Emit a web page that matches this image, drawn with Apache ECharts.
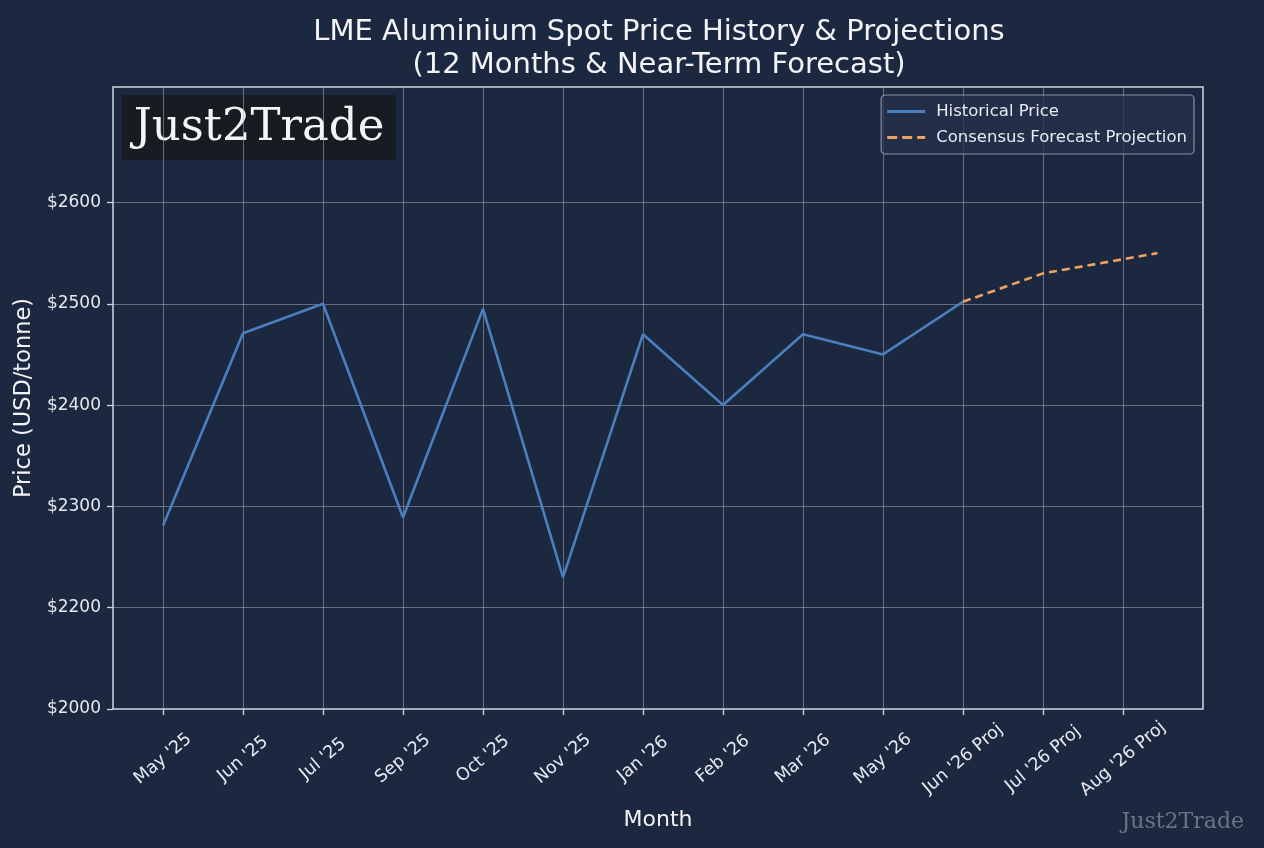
<!DOCTYPE html>
<html>
<head>
<meta charset="utf-8">
<script src="https://cdn.jsdelivr.net/npm/echarts@6/dist/echarts.min.js"></script>
<style>
html,body{margin:0;padding:0;background:#1c2740;}
#chart{width:1264px;height:848px;}
</style>
</head>
<body>
<div id="chart"></div>
<script>
// ---- data ----
var categories = ["May '25","Jun '25","Jul '25","Sep '25","Oct '25","Nov '25","Jan '26","Feb '26","Mar '26","May '26","Jun '26 Proj","Jul '26 Proj","Aug '26 Proj"];
var historicalIdx = [0,1,2,3,4,5,6,7,8,9,10];
var historicalPrice = [2281,2471,2500,2289,2495,2230,2470,2400,2470,2450,2502];
var forecastIdx = [10,11,12.43];
var forecastPrice = [2502,2530,2550];
var yTickValues = [2100,2200,2300,2400,2500,2600];
var yTickLabels = ['$2000','$2200','$2300','$2400','$2500','$2600'];
var xTickValues = [0,1,2,3,4,5,6,7,8,9,10,11,12];

var histData = historicalIdx.map(function(x,i){return [x, historicalPrice[i]];});
var fcData = forecastIdx.map(function(x,i){return [x, forecastPrice[i]];});

var FONT = 'DejaVu Sans';
var frameColor = '#d3d7df';
var gridColor = 'rgba(165,170,180,0.55)';
var blue = '#4a7fc0';
var orange = '#eea262';

var chart = echarts.init(document.getElementById('chart'));
chart.setOption({
  backgroundColor: '#1c2740',
  animation: false,
  title: {
    text: 'LME Aluminium Spot Price History & Projections\n(12 Months & Near-Term Forecast)',
    left: 654, top: 11, textAlign: 'center',
    textStyle: {color:'#f2f4f8', fontSize:29, fontWeight:'normal', lineHeight:33, fontFamily:FONT}
  },
  legend: {
    orient: 'vertical', right: 70, top: 95,
    backgroundColor: 'rgba(38,50,76,0.75)', borderColor: 'rgba(180,186,198,0.7)', borderWidth: 1.2, borderRadius: 4,
    padding: [8, 7, 8, 6], itemWidth: 38, itemHeight: 3, itemGap: 9,
    textStyle: {color:'#e8ecf2', fontSize:16.5, fontFamily:FONT, padding:[0,0,0,6]},
    data: [
      {name:'Historical Price', icon:'path://M0,0h38v3h-38z', itemStyle:{color:blue}},
      {name:'Consensus Forecast Projection', icon:'path://M0,0h10v3h-10z M15,0h10v3h-10z M30,0h8v3h-8z', itemStyle:{color:orange}}
    ]
  },
  grid: [
    {left:113, right:61, top:87, bottom:139, show:true, borderColor:frameColor, borderWidth:1.5, backgroundColor:'transparent'},
    {left:163, right:61, top:87, bottom:139}
  ],
  xAxis: [
    {type:'value', gridIndex:0, min:0, max:1, show:true,
      axisLine:{show:false}, axisTick:{show:false}, axisLabel:{show:false}, splitLine:{show:false},
      name:'Month', nameLocation:'middle', nameGap:100,
      nameTextStyle:{color:'#f0f2f6', fontSize:22, fontFamily:FONT}},
    {type:'value', gridIndex:1, min:0, max:13,
      axisLine:{show:false},
      axisTick:{show:true, length:6, customValues:xTickValues, lineStyle:{color:frameColor, width:1.3}},
      axisLabel:{customValues:xTickValues, rotate:40, align:'center', verticalAlign:'middle', margin:50,
        color:'#e6e9ef', fontSize:17.5, fontFamily:FONT,
        formatter:function(v){var i=Math.round(v); return categories[i]||'';}},
      splitLine:{show:true, lineStyle:{color:gridColor, width:1}}}
  ],
  yAxis: [
    {type:'value', gridIndex:0, min:2100, max:2714,
      axisLine:{show:false},
      axisTick:{show:true, length:6, customValues:yTickValues, lineStyle:{color:frameColor, width:1.3}},
      axisLabel:{customValues:yTickValues, color:'#e6e9ef', fontSize:17, fontFamily:FONT, margin:12,
        formatter:function(v){var i=yTickValues.indexOf(v); return i>=0?yTickLabels[i]:'';}},
      splitLine:{show:true, lineStyle:{color:gridColor, width:1}},
      name:'Price (USD/tonne)', nameLocation:'middle', nameGap:77,
      nameTextStyle:{color:'#f0f2f6', fontSize:22.5, fontFamily:FONT}},
    {type:'value', gridIndex:1, min:2100, max:2714, show:false}
  ],
  series: [
    {name:'Historical Price', type:'line', xAxisIndex:1, yAxisIndex:1, data:histData,
      symbol:'none', clip:false, lineStyle:{color:blue, width:2.6}, itemStyle:{color:blue}},
    {name:'Consensus Forecast Projection', type:'line', xAxisIndex:1, yAxisIndex:1, data:fcData,
      symbol:'none', clip:false, lineStyle:{color:orange, width:2.6, type:[8,5]}, itemStyle:{color:orange}}
  ],
  graphic: [
    {type:'group', left:122, top:95, children:[
      {type:'rect', shape:{x:0,y:0,width:274,height:65}, style:{fill:'#171b22', opacity:0.95}},
      {type:'text', x:137, y:33, style:{text:'Just2Trade', fill:'#f4f5f7', font:'45px "DejaVu Serif"', align:'center', verticalAlign:'middle'}}
    ]},
    {type:'text', right:20, bottom:15, style:{text:'Just2Trade', fill:'#6b7484', font:'22px "DejaVu Serif"'}}
  ]
});
</script>
</body>
</html>
